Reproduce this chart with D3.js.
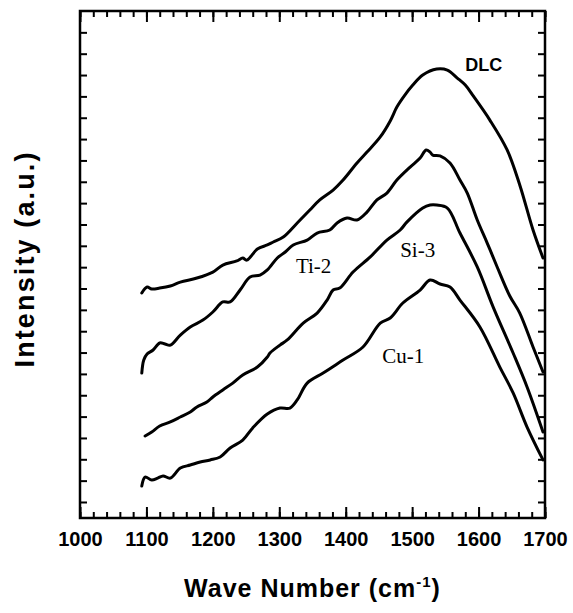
<!DOCTYPE html>
<html>
<head>
<meta charset="utf-8">
<script src="https://cdn.jsdelivr.net/npm/d3@7"></script>
<style>
  body { margin: 0; background: #fff; }
  svg { display: block; }
  .tick text { font-family: "Liberation Sans", Arial, sans-serif; font-weight: bold; font-size: 20px; fill: #000; }
</style>
</head>
<body>
<div id="area"></div>
<script>
let width = 573
let height = 613

// wave number ticks
let xMajor = [1000, 1100, 1200, 1300, 1400, 1500, 1600, 1700]
let xMinor = d3.range(1000, 1701, 20)
let yTicks = d3.range(0, 23)

// spectra: [wave number, intensity (a.u.)]
let dlc = [[1093,9.79],[1101,10.07],[1108,9.98],[1120,10.02],[1136,10.12],[1151,10.30],[1176,10.49],
  [1200,10.77],[1215,11.10],[1236,11.29],[1245,11.43],[1251,11.33],[1267,11.85],[1282,12.04],[1291,12.18],
  [1306,12.41],[1327,13.07],[1346,13.68],[1361,14.15],[1381,14.61],[1396,15.08],[1417,15.88],[1432,16.39],
  [1452,17.10],[1467,17.85],[1477,18.50],[1489,19.06],[1501,19.53],[1516,20.00],[1537,20.28],[1553,20.23],
  [1568,19.86],[1580,19.53],[1592,19.02],[1617,17.89],[1643,16.49],[1662,14.85],[1682,12.74],[1697,11.43]]

let ti2 = [[1093,6.04],[1096,6.65],[1101,6.93],[1110,7.12],[1120,7.45],[1128,7.40],[1136,7.35],[1151,7.82],
  [1166,8.20],[1185,8.52],[1200,8.90],[1215,9.37],[1226,9.37],[1241,9.93],[1256,10.54],[1271,10.63],
  [1282,10.87],[1297,11.43],[1309,11.71],[1321,12.04],[1342,12.27],[1357,12.60],[1376,12.74],[1387,13.07],
  [1402,13.30],[1417,13.21],[1432,13.58],[1447,14.15],[1462,14.47],[1477,15.08],[1497,15.69],[1512,16.11],
  [1521,16.49],[1527,16.39],[1531,16.25],[1542,16.21],[1557,15.88],[1572,15.08],[1583,14.47],[1598,13.21],
  [1613,12.13],[1628,11.01],[1647,9.65],[1662,8.85],[1682,7.26],[1697,6.09]]

let si3 = [[1098,3.09],[1108,3.28],[1120,3.56],[1136,3.75],[1151,3.98],[1166,4.22],[1176,4.45],[1191,4.68],
  [1200,4.92],[1215,5.25],[1230,5.57],[1245,5.95],[1267,6.32],[1282,6.79],[1286,6.98],[1301,7.35],
  [1312,7.59],[1336,8.38],[1357,8.85],[1372,9.46],[1381,9.93],[1391,10.02],[1411,10.77],[1437,11.48],
  [1462,12.27],[1482,12.74],[1492,13.11],[1516,13.77],[1527,13.91],[1537,13.91],[1553,13.77],[1572,12.60],
  [1598,11.01],[1622,9.13],[1652,6.98],[1673,5.39],[1697,3.28]]

let cu1 = [[1093,0.75],[1098,1.17],[1108,1.03],[1117,1.12],[1125,1.22],[1136,1.12],[1151,1.59],[1166,1.73],
  [1181,1.87],[1196,1.97],[1211,2.11],[1226,2.53],[1245,2.90],[1260,3.47],[1282,4.12],[1301,4.40],
  [1316,4.40],[1327,4.78],[1342,5.57],[1366,6.04],[1396,6.65],[1426,7.26],[1452,8.38],[1467,8.62],
  [1486,9.32],[1512,9.93],[1527,10.40],[1542,10.21],[1557,10.07],[1572,9.46],[1602,8.20],[1632,6.32],
  [1652,5.11],[1673,3.51],[1697,1.97]]

let seriesNames = ['DLC', 'Ti-2', 'Si-3', 'Cu-1']
let seriesData = [dlc, ti2, si3, cu1]
// label anchor points (wave number, intensity)
let labelPos = [[1580, 20.2], [1325, 10.73], [1482, 11.48], [1455, 6.51]]

let svg = d3.select('#area').append('svg')
  .attr('width', width).attr('height', height)

let x = d3.scaleLinear().domain([1000, 1700]).range([80, 545])
let y = d3.scaleLinear().domain([-0.75, 23]).range([518, 11])

// y ticks, left and right, pointing inward, no labels
svg.append('g')
  .attr('transform', 'translate(' + x(1000) + ',0)')
  .call(d3.axisLeft(y).tickValues(yTicks).tickSize(-7).tickFormat(''))
svg.append('g')
  .attr('transform', 'translate(' + x(1700) + ',0)')
  .call(d3.axisRight(y).tickValues(yTicks).tickSize(-7).tickFormat(''))

// minor x ticks, top and bottom
svg.append('g')
  .attr('transform', 'translate(0,' + y(-0.75) + ')')
  .call(d3.axisBottom(x).tickValues(xMinor).tickSize(-6).tickFormat(''))
svg.append('g')
  .attr('transform', 'translate(0,' + y(23) + ')')
  .call(d3.axisTop(x).tickValues(xMinor).tickSize(-6).tickFormat(''))

// major x ticks
svg.append('g')
  .attr('class', 'xaxis')
  .attr('transform', 'translate(0,' + y(-0.75) + ')')
  .call(d3.axisBottom(x).tickValues(xMajor).tickSize(-11).tickPadding(14).tickFormat(d3.format('d')))
svg.append('g')
  .attr('transform', 'translate(0,' + y(23) + ')')
  .call(d3.axisTop(x).tickValues(xMajor).tickSize(-11).tickFormat(''))

svg.selectAll('.domain').remove()
svg.selectAll('.tick line').attr('stroke', '#000').attr('stroke-width', 2)

// frame
svg.append('rect')
  .attr('x', x(1000)).attr('y', y(23))
  .attr('width', x(1700) - x(1000)).attr('height', y(-0.75) - y(23))
  .attr('fill', 'none').attr('stroke', '#000').attr('stroke-width', 2.5)

let line = d3.line()
  .x(d => x(d[0]))
  .y(d => y(d[1]))
  .curve(d3.curveCatmullRom.alpha(0.5))

svg.selectAll('path.spectrum')
  .data(seriesData)
  .enter().append('path')
  .attr('class', 'spectrum')
  .attr('d', line)
  .attr('fill', 'none')
  .attr('stroke', '#000')
  .attr('stroke-width', 3)
  .attr('stroke-linejoin', 'round')
  .attr('stroke-linecap', 'round')

svg.selectAll('text.label')
  .data(seriesNames)
  .enter().append('text')
  .attr('class', 'label')
  .attr('x', (d, i) => x(labelPos[i][0]))
  .attr('y', (d, i) => y(labelPos[i][1]))
  .attr('font-family', (d, i) => i == 0 ? '"Liberation Sans", Arial, sans-serif' : '"Liberation Serif", "Times New Roman", serif')
  .attr('font-weight', (d, i) => i == 0 ? 'bold' : 'normal')
  .attr('font-size', (d, i) => i == 0 ? '18px' : '21px')
  .text(d => d)

// axis titles
let xTitle = svg.append('text')
  .attr('x', (x(1000) + x(1700)) / 2)
  .attr('y', 597)
  .attr('text-anchor', 'middle')
  .attr('font-family', '"Liberation Sans", Arial, sans-serif')
  .attr('font-weight', 'bold')
  .attr('font-size', '25px')
  .attr('letter-spacing', '1px')
xTitle.append('tspan').text('Wave Number (cm')
xTitle.append('tspan').attr('dy', -10).attr('font-size', '15px').text('-1')
xTitle.append('tspan').attr('dy', 10).text(')')

svg.append('text')
  .attr('transform', 'translate(34,' + 260 + ') rotate(-90)')
  .attr('text-anchor', 'middle')
  .attr('font-family', '"Liberation Sans", Arial, sans-serif')
  .attr('font-weight', 'bold')
  .attr('font-size', '27px')
  .attr('textLength', 215)
  .attr('lengthAdjust', 'spacing')
  .text('Intensity (a.u.)')
</script>
</body>
</html>
